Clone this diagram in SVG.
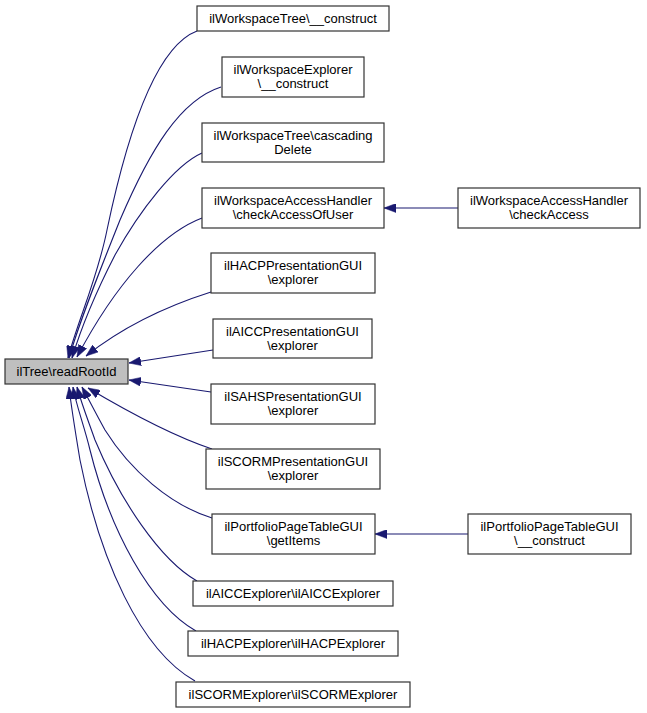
<svg xmlns="http://www.w3.org/2000/svg" width="647" height="713" viewBox="0 0 647 713">
<style>
.n rect{fill:#fff;stroke:#333;stroke-width:1.2}
.n.root rect{fill:#bfbfbf}
.n text{font-family:"Liberation Sans",Arial,sans-serif;font-size:13px;fill:#000;text-anchor:middle}
.e path{fill:none;stroke:#191970;stroke-width:1.1;marker-end:url(#ah)}
</style>
<defs>
<marker id="ah" viewBox="0 0 12 9" refX="12" refY="4.5" markerWidth="12" markerHeight="9" markerUnits="userSpaceOnUse" orient="auto">
<path d="M0,0 L12,4.5 L0,9 z" fill="#191970" stroke="#191970" stroke-width="0.5"/>
</marker>
</defs>
<rect width="647" height="713" fill="#fff"/>
<g id="edges" class="e">
<path d="M197,31 C160,45 130,120 107,230 C97,280 78,320 68,358"/>
<path d="M221,87 C180,100 150,150 120,220 C100,270 80,320 69,358"/>
<path d="M202,153 C175,165 140,210 115,255 C97,290 82,325 72,358"/>
<path d="M202,218 C160,234 115,285 77,357"/>
<path d="M211,292 C170,305 125,325 86,356"/>
<path d="M213,350 L129,363"/>
<path d="M211,392 L129,380"/>
<path d="M212,449 C170,435 125,410 88,388"/>
<path d="M212,518 C170,505 130,470 105,430 C95,412 88,398 82,387"/>
<path d="M197,581 C160,560 120,500 95,440 C88,420 82,405 77,387"/>
<path d="M196,631 C150,605 110,530 90,450 C84,425 76,405 73,387"/>
<path d="M195,681 C140,650 100,560 80,460 C75,430 71,405 69,387"/>
<path d="M458,208 L384,208"/>
<path d="M468,534 L375,534"/>
</g>
<g id="readRootId" class="n root"><rect x="5" y="359" width="123" height="25"/><text x="66.5" y="376">ilTree\readRootId</text></g>
<g id="wsTreeConstruct" class="n"><rect x="197" y="6" width="192" height="25"/><text x="293" y="22.5">ilWorkspaceTree\__construct</text></g>
<g id="wsExplorerConstruct" class="n"><rect x="222" y="57" width="142" height="40"/><text x="293" y="74">ilWorkspaceExplorer</text><text x="293" y="88">\__construct</text></g>
<g id="wsTreeCascading" class="n"><rect x="202" y="123" width="182" height="39"/><text x="293" y="140">ilWorkspaceTree\cascading</text><text x="293" y="153.5">Delete</text></g>
<g id="wsCheckAccessOfUser" class="n"><rect x="202" y="188" width="182" height="40"/><text x="293" y="205">ilWorkspaceAccessHandler</text><text x="293" y="219">\checkAccessOfUser</text></g>
<g id="wsCheckAccess" class="n"><rect x="458" y="188" width="182" height="40"/><text x="549" y="205">ilWorkspaceAccessHandler</text><text x="549" y="219">\checkAccess</text></g>
<g id="hacpPresExplorer" class="n"><rect x="211" y="253" width="164" height="40"/><text x="293" y="270">ilHACPPresentationGUI</text><text x="293" y="284">\explorer</text></g>
<g id="aiccPresExplorer" class="n"><rect x="213" y="319" width="159" height="39"/><text x="292.5" y="335.5">ilAICCPresentationGUI</text><text x="292.5" y="349.5">\explorer</text></g>
<g id="sahsPresExplorer" class="n"><rect x="211" y="384" width="164" height="40"/><text x="293" y="401">ilSAHSPresentationGUI</text><text x="293" y="415">\explorer</text></g>
<g id="scormPresExplorer" class="n"><rect x="206" y="449" width="174" height="40"/><text x="293" y="466">ilSCORMPresentationGUI</text><text x="293" y="480">\explorer</text></g>
<g id="portfolioGetItems" class="n"><rect x="212" y="514" width="163" height="40"/><text x="293.5" y="531">ilPortfolioPageTableGUI</text><text x="293.5" y="545">\getItems</text></g>
<g id="portfolioConstruct" class="n"><rect x="468" y="514" width="163" height="40"/><text x="549.5" y="531">ilPortfolioPageTableGUI</text><text x="549.5" y="545">\__construct</text></g>
<g id="aiccExplorer" class="n"><rect x="193" y="581" width="200" height="25"/><text x="293" y="598">ilAICCExplorer\ilAICCExplorer</text></g>
<g id="hacpExplorer" class="n"><rect x="188" y="631" width="210" height="25"/><text x="293" y="648">ilHACPExplorer\ilHACPExplorer</text></g>
<g id="scormExplorer" class="n"><rect x="176" y="682" width="234" height="25"/><text x="293" y="699">ilSCORMExplorer\ilSCORMExplorer</text></g>
</svg>
